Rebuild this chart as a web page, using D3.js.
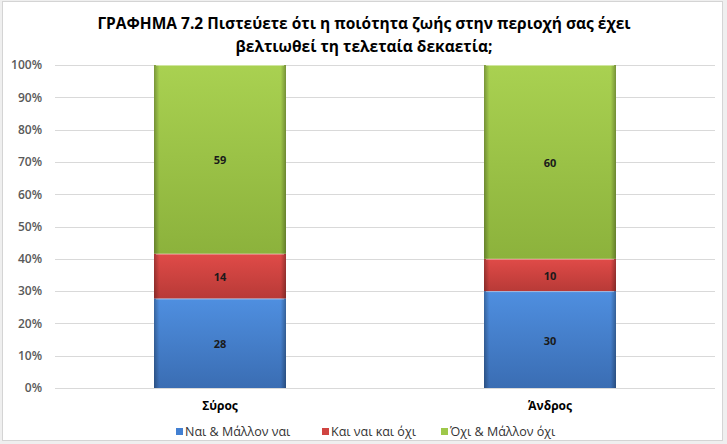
<!DOCTYPE html>
<html><head><meta charset="utf-8">
<script src="https://cdn.jsdelivr.net/npm/d3@7"></script>
<style>body{margin:0;background:#fff}svg{display:block}</style>
</head><body>
<svg id="c" width="727" height="444"></svg>
<script>
const categories = ["Σύρος", "Άνδρος"];
const seriesNames = ["Ναι & Μάλλον ναι", "Και ναι και όχι", "Όχι & Μάλλον όχι"];
const valuesNai = [28, 30];
const valuesKai = [14, 10];
const valuesOxi = [59, 60];
const tickValues = [0, 10, 20, 30, 40, 50, 60, 70, 80, 90, 100];
const titleLines = ["ΓΡΑΦΗΜΑ 7.2 Πιστεύετε ότι η ποιότητα ζωής στην περιοχή σας έχει", "βελτιωθεί τη τελεταία δεκαετία;"];

const series = [valuesNai, valuesKai, valuesOxi];
const colors = [
  {top:"#4f8fe0", bot:"#3a6db3", mid:"#4380d2"},
  {top:"#e04b48", bot:"#b83a37", mid:"#d04441"},
  {top:"#a9d151", bot:"#8cb23c", mid:"#9ec84a"}
];

const svg = d3.select("#c");
const W = 727, H = 444;
svg.append("rect").attr("width", W).attr("height", H).attr("fill", "#efefef");
svg.append("rect").attr("x", 2.5).attr("y", 1.5).attr("width", 720).attr("height", 439)
  .attr("fill", "#fff").attr("stroke", "#d4d4d4").attr("stroke-width", 1);

const font = "'Open Sans', 'Noto Sans', sans-serif";
const m = {l: 55, r: 12, t: 65, b: 56};
const x = d3.scaleBand().domain(categories).range([m.l, W - m.r]).paddingInner(0.6).paddingOuter(0.3);
const y = d3.scaleLinear().domain([0, 100]).range([388, 65]);

const defs = svg.append("defs");
colors.forEach((c, i) => {
  const g = defs.append("linearGradient").attr("id", "v" + i).attr("x1", 0).attr("y1", 0).attr("x2", 0).attr("y2", 1);
  g.append("stop").attr("offset", "0%").attr("stop-color", c.top);
  g.append("stop").attr("offset", "100%").attr("stop-color", c.bot);
});
const hg = defs.append("linearGradient").attr("id", "edge").attr("x1", 0).attr("y1", 0).attr("x2", 1).attr("y2", 0);
[[0, 0.28], [0.04, 0.0], [0.96, 0.0], [1, 0.3]].forEach(([o, a]) =>
  hg.append("stop").attr("offset", o).attr("stop-color", "#000").attr("stop-opacity", a));

// gridlines
svg.append("g").selectAll("line").data(tickValues).join("line")
  .attr("x1", m.l).attr("x2", W - m.r)
  .attr("y1", d => Math.round(y(d)) + 0.5).attr("y2", d => Math.round(y(d)) + 0.5)
  .attr("stroke", "#d9d9d9").attr("stroke-width", 1);

// y axis
const yAxis = d3.axisLeft(y).tickValues(tickValues).tickFormat(d => d + "%").tickSize(0).tickPadding(0);
const ya = svg.append("g").attr("transform", `translate(${m.l - 13},0)`).call(yAxis);
ya.select(".domain").remove();
ya.selectAll("text").attr("font-family", font).attr("font-size", 12).attr("font-weight", 600).attr("fill", "#595959");

// stacked normalized
const table = categories.map((c, i) => {
  const o = {cat: c};
  series.forEach((s, k) => o["s" + k] = s[i]);
  return o;
});
const keys = series.map((s, k) => "s" + k);
const stack = d3.stack().keys(keys).offset(d3.stackOffsetExpand);
const stacked = stack(table);

stacked.forEach((layer, k) => {
  const g = svg.append("g");
  layer.forEach(d => {
    const x0 = x(d.data.cat), bw = x.bandwidth();
    const y0 = y(d[1] * 100), y1 = y(d[0] * 100);
    g.append("rect").attr("x", x0).attr("y", y0).attr("width", bw).attr("height", y1 - y0).attr("fill", `url(#v${k})`);
    g.append("rect").attr("x", x0).attr("y", y0).attr("width", bw).attr("height", y1 - y0).attr("fill", "url(#edge)");
    g.append("line").attr("x1", x0 + 2).attr("x2", x0 + bw - 2).attr("y1", y0 + 0.5).attr("y2", y0 + 0.5)
      .attr("stroke", "#fff").attr("stroke-opacity", 0.45);
    g.append("text").attr("x", x0 + bw / 2).attr("y", (y0 + y1) / 2 + 5)
      .attr("text-anchor", "middle").attr("font-family", font).attr("font-size", 11).attr("font-weight", 700)
      .attr("fill", "#1a1a1a").text(d.data["s" + k]);
  });
});

// x axis labels
const xa = svg.append("g").attr("transform", `translate(0,${388})`)
  .call(d3.axisBottom(x).tickSize(0).tickPadding(13));
xa.select(".domain").remove();
xa.selectAll("text").attr("font-family", font).attr("font-size", 12).attr("font-weight", 700).attr("fill", "#000");

// title
svg.append("g").selectAll("text").data(titleLines).join("text")
  .attr("x", 364).attr("y", (d, i) => 29 + i * 23).attr("text-anchor", "middle")
  .attr("font-family", font).attr("font-size", 15.5).attr("font-weight", 700).attr("fill", "#000")
  .text(d => d);

// legend
const legX = [176, 322, 441];
const lg = svg.append("g");
seriesNames.forEach((n, k) => {
  lg.append("rect").attr("x", legX[k]).attr("y", 428).attr("width", 7).attr("height", 7).attr("fill", colors[k].mid);
  lg.append("text").attr("x", legX[k] + 9).attr("y", 436).attr("font-family", font).attr("font-size", 12.5)
    .attr("font-weight", 500).attr("fill", "#333").text(n);
});
</script>
</body></html>
